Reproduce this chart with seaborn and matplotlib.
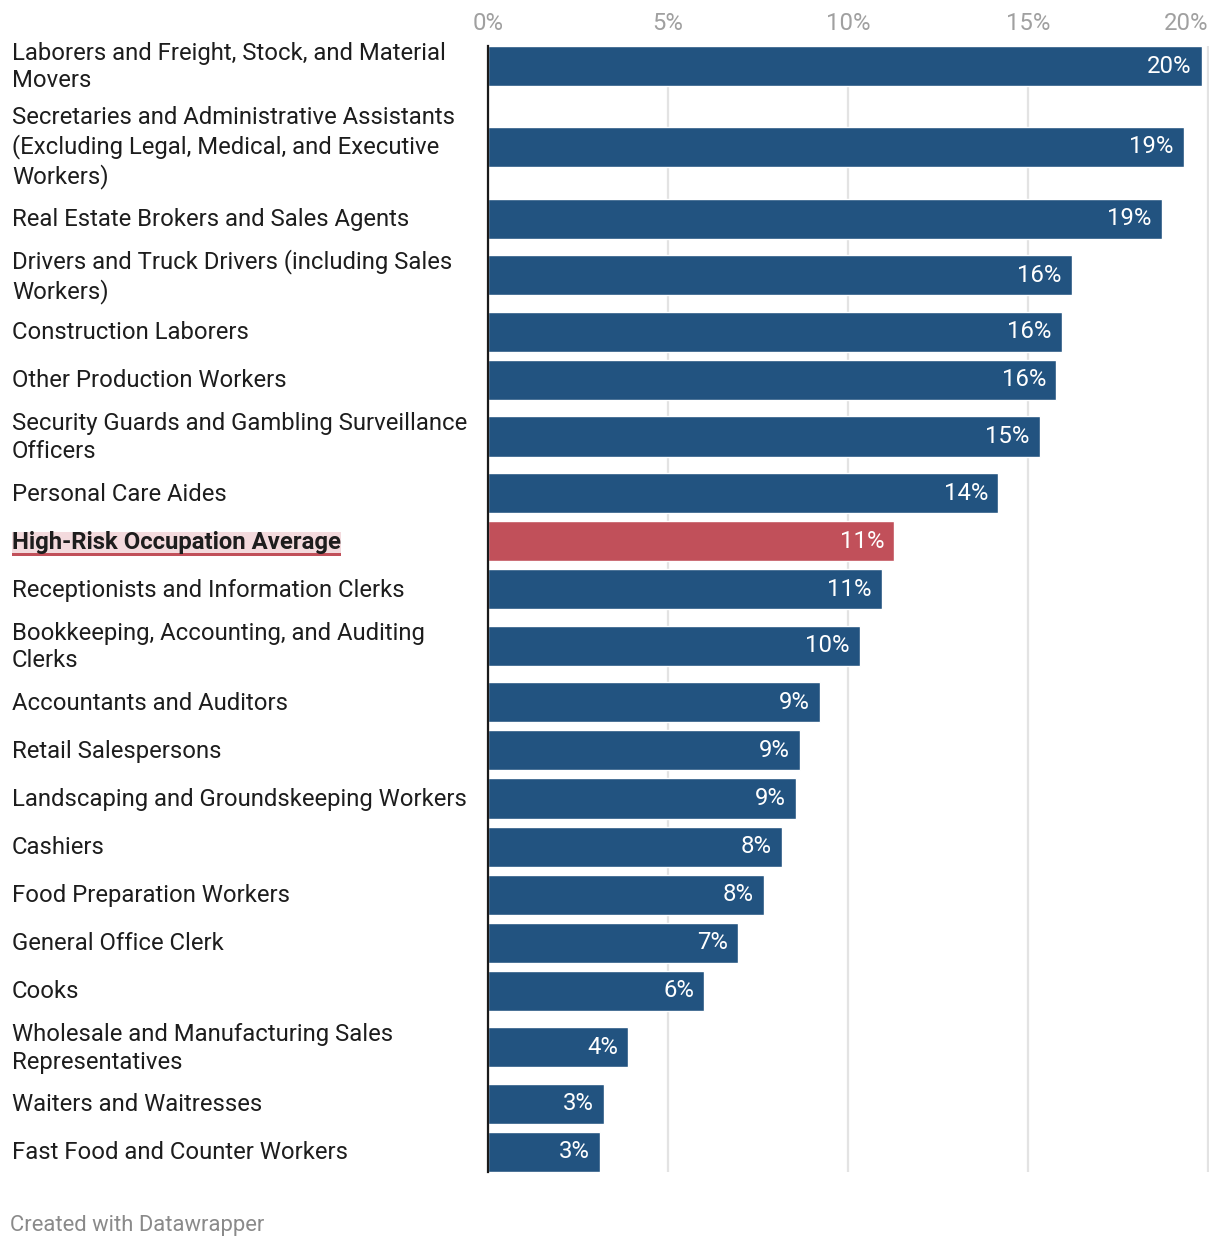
import matplotlib
matplotlib.use("Agg")
import matplotlib.pyplot as plt
import matplotlib.transforms as mtransforms
from matplotlib.patches import Rectangle
import seaborn as sns
import pandas as pd

# ------------------------------
# data
# ------------------------------
occupations = [
    "Laborers and Freight, Stock, and Material\nMovers",
    "Secretaries and Administrative Assistants\n(Excluding Legal, Medical, and Executive\nWorkers)",
    "Real Estate Brokers and Sales Agents",
    "Drivers and Truck Drivers (including Sales\nWorkers)",
    "Construction Laborers",
    "Other Production Workers",
    "Security Guards and Gambling Surveillance\nOfficers",
    "Personal Care Aides",
    "High-Risk Occupation Average",
    "Receptionists and Information Clerks",
    "Bookkeeping, Accounting, and Auditing\nClerks",
    "Accountants and Auditors",
    "Retail Salespersons",
    "Landscaping and Groundskeeping Workers",
    "Cashiers",
    "Food Preparation Workers",
    "General Office Clerk",
    "Cooks",
    "Wholesale and Manufacturing Sales\nRepresentatives",
    "Waiters and Waitresses",
    "Fast Food and Counter Workers",
]
share = [19.83, 19.33, 18.72, 16.22, 15.94, 15.78, 15.33, 14.17, 11.28, 10.94, 10.33,
         9.22, 8.67, 8.56, 8.17, 7.67, 6.94, 6.0, 3.89, 3.22, 3.11]
highlight = "High-Risk Occupation Average"
x_ticks = [0, 5, 10, 15, 20]

BLUE = "#225380"
RED = "#c1505a"
PINK = "#f3dadd"
TEXT = "#1d1d1d"
GREY = "#a0a0a0"

# ------------------------------
# row layout (taller rows for wrapped labels)
# ------------------------------
row_h = {1: 48, 2: 65, 3: 96}
heights = [row_h[lbl.count("\n") + 1] for lbl in occupations]
centers = [0.0]
for i in range(1, len(heights)):
    centers.append(centers[-1] + heights[i - 1] / 2 + heights[i] / 2)

df = pd.DataFrame({
    "Occupation": occupations,
    "Share": share,
    "Pos": centers,
    "Group": ["avg" if o == highlight else "occ" for o in occupations],
})

# ------------------------------
# figure
# ------------------------------
W, H = 1220, 1248
sns.set_theme(style="white")
plt.rcParams["font.family"] = ["Roboto", "DejaVu Sans"]
FS = 17.2

XMAX = 20.04
PX_PER_PCT = 36
fig = plt.figure(figsize=(W / 100, H / 100), dpi=100)
ax = fig.add_axes([488 / W, 1 - 1172 / H, XMAX * PX_PER_PCT / W, (1172 - 46) / H])

sns.barplot(data=df, x="Share", y="Pos", hue="Group", orient="h",
            native_scale=True, dodge=False, legend=False, errorbar=None,
            palette={"occ": BLUE, "avg": RED}, saturation=1,
            width=40 / 48, ax=ax)

ax.set_ylim(centers[-1] + 20, centers[0] - 20)
ax.set_xlim(0, XMAX)
ax.set_xlabel("")
ax.set_ylabel("")
ax.set_yticks([])

ax.xaxis.tick_top()
ax.set_xticks(x_ticks)
ax.set_xticklabels([f"{t}%" for t in x_ticks])
ax.tick_params(axis="x", length=0, pad=8, labelsize=FS, labelcolor=GREY)
ax.get_xticklabels()[-1].set_ha("right")

ax.xaxis.grid(True, color="#e3e3e3", lw=1.6)
ax.set_axisbelow(True)
for s in ["top", "right", "bottom"]:
    ax.spines[s].set_visible(False)
ax.spines["left"].set_color("#1a1a1a")
ax.spines["left"].set_linewidth(1.6)

# value labels inside bars
for v, y in zip(share, centers):
    ax.text(v - 0.28, y, f"{round(v)}%", ha="right", va="center",
            color="white", fontsize=FS)

# category labels, left-aligned at the figure edge
trans = mtransforms.blended_transform_factory(fig.transFigure, ax.transData)
hl_text = None
for lbl, y in zip(occupations, centers):
    is_hl = lbl == highlight
    t = ax.text(12 / W, y + 1, lbl, transform=trans, ha="left", va="center",
                fontsize=FS, color=TEXT, linespacing=1.25,
                fontweight="bold" if is_hl else "normal", zorder=5,
                clip_on=False)
    if is_hl:
        hl_text = t

# highlight box + underline behind the average label
fig.canvas.draw()
bb = hl_text.get_window_extent(fig.canvas.get_renderer())
inv = fig.transFigure.inverted()
(x0, y0), (x1, y1) = inv.transform([(bb.x0, bb.y0 + 1), (bb.x1, bb.y1 - 1)])
ax.add_patch(Rectangle((x0, y0), x1 - x0, y1 - y0, transform=fig.transFigure,
                       facecolor=PINK, edgecolor="none", zorder=3, clip_on=False))
ax.add_patch(Rectangle((x0, y0 - 3 / H), x1 - x0, 3 / H, transform=fig.transFigure,
                       facecolor=RED, edgecolor="none", zorder=3, clip_on=False))

fig.text(10 / W, 1 - 1225 / H, "Created with Datawrapper", ha="left", va="center",
         fontsize=15.8, color="#8a8a8a")

fig.savefig("out.png", dpi=100)
